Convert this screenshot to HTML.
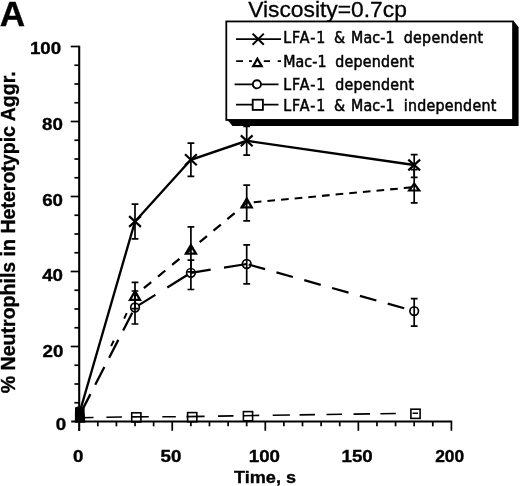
<!DOCTYPE html>
<html><head><meta charset="utf-8"><title>Figure A</title>
<style>html,body{margin:0;padding:0;background:#fff;}svg{display:block;}text{font-family:"Liberation Sans",sans-serif;fill:#000;}.b{font-weight:bold;stroke:#000;stroke-width:0.35px;}.lg{font-family:"DejaVu Sans Condensed","DejaVu Sans","Liberation Sans",sans-serif;font-size:15.8px;font-stretch:condensed;stroke:#000;stroke-width:0.5px;}</style></head><body>
<svg width="520" height="486" viewBox="0 0 520 486">
<rect width="520" height="486" fill="#fff"/>
<g stroke="#000" stroke-width="2.1" fill="none" stroke-linecap="butt">
<path d="M79.2 45.7 V431.0"/>
<path d="M71.2 421.5 H452.2"/>
</g>
<g stroke="#000" stroke-width="1.7" fill="none">
<path d="M74.40 402.75 H79.2"/>
<path d="M74.40 384.00 H79.2"/>
<path d="M74.40 365.25 H79.2"/>
<path d="M70.70 346.50 H79.2"/>
<path d="M74.40 327.75 H79.2"/>
<path d="M74.40 309.00 H79.2"/>
<path d="M74.40 290.25 H79.2"/>
<path d="M70.70 271.50 H79.2"/>
<path d="M74.40 252.75 H79.2"/>
<path d="M74.40 234.00 H79.2"/>
<path d="M74.40 215.25 H79.2"/>
<path d="M70.70 196.50 H79.2"/>
<path d="M74.40 177.75 H79.2"/>
<path d="M74.40 159.00 H79.2"/>
<path d="M74.40 140.25 H79.2"/>
<path d="M70.70 121.50 H79.2"/>
<path d="M74.40 102.75 H79.2"/>
<path d="M74.40 84.00 H79.2"/>
<path d="M74.40 65.25 H79.2"/>
<path d="M70.70 46.50 H79.2"/>
<path d="M97.81 421.5 V426.30"/>
<path d="M116.42 421.5 V426.30"/>
<path d="M135.03 421.5 V426.30"/>
<path d="M153.64 421.5 V426.30"/>
<path d="M172.25 421.5 V430.80"/>
<path d="M190.86 421.5 V426.30"/>
<path d="M209.47 421.5 V426.30"/>
<path d="M228.08 421.5 V426.30"/>
<path d="M246.69 421.5 V426.30"/>
<path d="M265.30 421.5 V430.80"/>
<path d="M283.91 421.5 V426.30"/>
<path d="M302.52 421.5 V426.30"/>
<path d="M321.13 421.5 V426.30"/>
<path d="M339.74 421.5 V426.30"/>
<path d="M358.35 421.5 V430.80"/>
<path d="M376.96 421.5 V426.30"/>
<path d="M395.57 421.5 V426.30"/>
<path d="M414.18 421.5 V426.30"/>
<path d="M432.79 421.5 V426.30"/>
<path d="M451.40 421.5 V430.80"/>
</g>
<text class="b" transform="translate(61.2,54.2) scale(1.13,1)" font-size="16.6" text-anchor="end">100</text>
<text class="b" transform="translate(62.9,130.4) scale(1.13,1)" font-size="16.6" text-anchor="end">80</text>
<text class="b" transform="translate(63.0,205.7) scale(1.13,1)" font-size="16.6" text-anchor="end">60</text>
<text class="b" transform="translate(63.0,280.8) scale(1.13,1)" font-size="16.6" text-anchor="end">40</text>
<text class="b" transform="translate(63.4,356.8) scale(1.13,1)" font-size="16.6" text-anchor="end">20</text>
<text class="b" transform="translate(66.1,430.0) scale(1.13,1)" font-size="16.6" text-anchor="end">0</text>
<text class="b" transform="translate(78.2,462) scale(1.13,1)" font-size="16.6" text-anchor="middle">0</text>
<text class="b" transform="translate(171,462) scale(1.13,1)" font-size="16.6" text-anchor="middle">50</text>
<text class="b" transform="translate(264.4,462) scale(1.13,1)" font-size="16.6" text-anchor="middle">100</text>
<text class="b" transform="translate(357.1,462) scale(1.13,1)" font-size="16.6" text-anchor="middle">150</text>
<text class="b" transform="translate(449.7,462) scale(1.05,1)" font-size="16.6" text-anchor="middle">200</text>
<text class="b" transform="translate(265,482.7) scale(1.04,1)" font-size="17.4" text-anchor="middle">Time, s</text>
<text class="b" transform="translate(15.2,232.3) rotate(-90)" font-size="19.56" text-anchor="middle">% Neutrophils in Heterotypic Aggr.</text>
<text class="b" transform="translate(-0.2,26.2) scale(0.985,1)" font-size="35.7">A</text>
<text transform="translate(248.2,17.3) scale(1.027,1)" font-size="22.2" stroke="#000" stroke-width="0.3">Viscosity=0.7cp</text>
<path d="M79.2 417.8 L93.5 417.5 M106.4 417.3 L122.0 417.0 M131.8 416.9 L148.8 416.8 M162.3 416.7 L175.8 416.7 M186.5 416.6 L204.6 416.4 M218.0 416.1 L233.5 415.9 M243.3 415.7 L259.2 415.4 M272.7 415.2 L290.0 415.0 M299.6 414.9 L315.0 414.6 M326.5 414.5 L342.0 414.3 M353.5 414.1 L370.0 413.9 M380.4 413.7 L395.8 413.5 M412.5 413.3 L418.0 413.2" fill="none" stroke="#000" stroke-width="1.6"/>
<path d="M79.2 415.9 L135.0 307.5" fill="none" stroke="#000" stroke-width="2.3" stroke-dasharray="20 10.5" stroke-dashoffset="26.00"/>
<path d="M135.0 307.5 L190.9 272.8" fill="none" stroke="#000" stroke-width="2.25" stroke-dasharray="20 14 24 14" stroke-dashoffset="68.00"/>
<path d="M190.9 272.8 L246.7 264.0" fill="none" stroke="#000" stroke-width="2.25" stroke-dasharray="20 13.5 30 10" stroke-dashoffset="0.00"/>
<path d="M246.7 264.0 L414.2 311.1" fill="none" stroke="#000" stroke-width="2.25" stroke-dasharray="17.1 11.8" stroke-dashoffset="26.90"/>
<path d="M79.2 414.0 L135.0 295.5" fill="none" stroke="#000" stroke-width="2.0" stroke-dasharray="6 24.5 6 200" stroke-dashoffset="161.50"/>
<path d="M135.0 295.5 L190.9 249.4" fill="none" stroke="#000" stroke-width="2.25" stroke-dasharray="9.5 8.8" stroke-dashoffset="6.80"/>
<path d="M190.9 249.4 L246.7 203.0" fill="none" stroke="#000" stroke-width="2.25" stroke-dasharray="9.5 8.5" stroke-dashoffset="6.60"/>
<path d="M246.7 203.0 L414.2 187.1" fill="none" stroke="#000" stroke-width="2.05" stroke-dasharray="7.7 6.0" stroke-dashoffset="6.60"/>
<polyline points="79.2,414.0 135.0,221.5 190.9,159.8 246.7,140.8 414.2,165.0" fill="none" stroke="#000" stroke-width="2.35"/>
<path d="M135.0 204.2 V238.9 M131.6 204.2 h6.8 M131.6 238.9 h6.8" stroke="#000" stroke-width="1.7" fill="none"/>
<path d="M190.9 143.2 V176.3 M187.5 143.2 h6.8 M187.5 176.3 h6.8" stroke="#000" stroke-width="1.7" fill="none"/>
<path d="M246.7 126.4 V155.2 M243.3 126.4 h6.8 M243.3 155.2 h6.8" stroke="#000" stroke-width="1.7" fill="none"/>
<path d="M414.2 154.7 V177.4 M410.8 154.7 h6.8 M410.8 177.4 h6.8" stroke="#000" stroke-width="1.7" fill="none"/>
<path d="M79.2 410.2 V417.8 M75.8 410.2 h6.8 M75.8 417.8 h6.8" stroke="#000" stroke-width="1.7" fill="none"/>
<path d="M135.0 282.4 V308.6 M131.6 282.4 h6.8 M131.6 308.6 h6.8" stroke="#000" stroke-width="1.7" fill="none"/>
<path d="M190.9 226.9 V271.9 M187.5 226.9 h6.8 M187.5 271.9 h6.8" stroke="#000" stroke-width="1.7" fill="none"/>
<path d="M246.7 185.2 V220.8 M243.3 185.2 h6.8 M243.3 220.8 h6.8" stroke="#000" stroke-width="1.7" fill="none"/>
<path d="M414.2 169.7 V202.9 M410.8 169.7 h6.8 M410.8 202.9 h6.8" stroke="#000" stroke-width="1.7" fill="none"/>
<path d="M79.2 412.1 V419.6 M75.8 412.1 h6.8 M75.8 419.6 h6.8" stroke="#000" stroke-width="1.7" fill="none"/>
<path d="M135.0 291.0 V324.0 M131.6 291.0 h6.8 M131.6 324.0 h6.8" stroke="#000" stroke-width="1.7" fill="none"/>
<path d="M190.9 260.1 V289.5 M187.5 260.1 h6.8 M187.5 289.5 h6.8" stroke="#000" stroke-width="1.7" fill="none"/>
<path d="M246.7 244.9 V283.9 M243.3 244.9 h6.8 M243.3 283.9 h6.8" stroke="#000" stroke-width="1.7" fill="none"/>
<path d="M414.2 298.7 V326.2 M410.8 298.7 h6.8 M410.8 326.2 h6.8" stroke="#000" stroke-width="1.7" fill="none"/>
<rect x="131.7" y="412.8" width="9.2" height="9.2" stroke="#000" stroke-width="1.6" fill="none"/>
<rect x="187.6" y="412.6" width="9.2" height="9.2" stroke="#000" stroke-width="1.6" fill="none"/>
<rect x="243.4" y="411.6" width="9.2" height="9.2" stroke="#000" stroke-width="1.6" fill="none"/>
<rect x="410.9" y="409.2" width="9.2" height="9.2" stroke="#000" stroke-width="1.6" fill="none"/>
<circle cx="135.0" cy="307.5" r="4.3" stroke="#000" stroke-width="1.7" fill="none"/>
<circle cx="190.9" cy="272.8" r="4.3" stroke="#000" stroke-width="1.7" fill="none"/>
<circle cx="246.7" cy="264.0" r="4.3" stroke="#000" stroke-width="1.7" fill="none"/>
<circle cx="414.2" cy="311.1" r="4.3" stroke="#000" stroke-width="1.7" fill="none"/>
<path d="M135.0 291.2 L140.0 299.8 H130.0 Z" stroke="#000" stroke-width="2.3" fill="none" stroke-linejoin="miter"/>
<path d="M190.9 245.1 L195.9 253.7 H185.9 Z" stroke="#000" stroke-width="2.3" fill="none" stroke-linejoin="miter"/>
<path d="M246.7 198.7 L251.7 207.3 H241.7 Z" stroke="#000" stroke-width="2.3" fill="none" stroke-linejoin="miter"/>
<path d="M414.2 183.7 L419.2 190.5 H409.2 Z" stroke="#000" stroke-width="2.2" fill="none" stroke-linejoin="miter"/>
<path d="M129.1 216.1 L140.9 226.9 M129.1 226.9 L140.9 216.1" stroke="#000" stroke-width="2.2" fill="none"/>
<path d="M185.0 154.3 L196.8 165.2 M185.0 165.2 L196.8 154.3" stroke="#000" stroke-width="2.2" fill="none"/>
<path d="M240.8 135.4 L252.6 146.2 M240.8 146.2 L252.6 135.4" stroke="#000" stroke-width="2.2" fill="none"/>
<path d="M408.3 159.6 L420.1 170.4 M408.3 170.4 L420.1 159.6" stroke="#000" stroke-width="2.2" fill="none"/>
<path d="M75 407.5 L79 406 L84.5 408 L85.3 422.8 H74.8 Z" fill="#000"/>
<path d="M227.5 120 L232.5 126 H518.6 V27 L514 21.5 Z" fill="#000"/>
<rect x="226.3" y="21.45" width="286.75" height="98.5" fill="#fff" stroke="#000" stroke-width="1.8"/>
<text class="lg" y="43"><tspan x="283.2" letter-spacing="1.0">LFA-1 </tspan><tspan x="334" letter-spacing="0">&amp; </tspan><tspan x="351" letter-spacing="0.15">Mac-1 </tspan><tspan x="403.7" letter-spacing="0.32">dependent</tspan></text>
<text class="lg" y="67.4"><tspan x="283.2" letter-spacing="0.1">Mac-1 </tspan><tspan x="335.3" letter-spacing="0.22">dependent</tspan></text>
<text class="lg" y="90"><tspan x="283.2" letter-spacing="1.0">LFA-1 </tspan><tspan x="335.3" letter-spacing="0.22">dependent</tspan></text>
<text class="lg" y="110.6"><tspan x="283.2" letter-spacing="1.0">LFA-1 </tspan><tspan x="334" letter-spacing="0">&amp; </tspan><tspan x="351" letter-spacing="0.15">Mac-1 </tspan><tspan x="403.7" letter-spacing="0.27">independent</tspan></text>
<path d="M236 39.2 H281" stroke="#000" stroke-width="1.7"/>
<path d="M252.6 33.6 L263.8 44.8 M252.6 44.8 L263.8 33.6" stroke="#000" stroke-width="2" fill="none"/>
<path d="M236.2 61.2 H243 M249 61.2 H252 M263.8 61.2 H270 M277.7 61.2 H281" stroke="#000" stroke-width="1.8"/>
<path d="M257.4 58.7 L261.7 66.1 H253.1 Z" stroke="#000" stroke-width="2.2" fill="none" stroke-linejoin="miter"/>
<path d="M234.6 84.3 H252.5 M261.5 84.3 H278.5" stroke="#000" stroke-width="1.7"/>
<circle cx="256.9" cy="84.3" r="4.1" stroke="#000" stroke-width="1.9" fill="none"/>
<path d="M236 104.6 H252 M263.5 104.6 H278.5" stroke="#000" stroke-width="1.7"/>
<rect x="252.7" y="99.7" width="10.2" height="10.2" stroke="#000" stroke-width="1.8" fill="none"/>
</svg></body></html>
